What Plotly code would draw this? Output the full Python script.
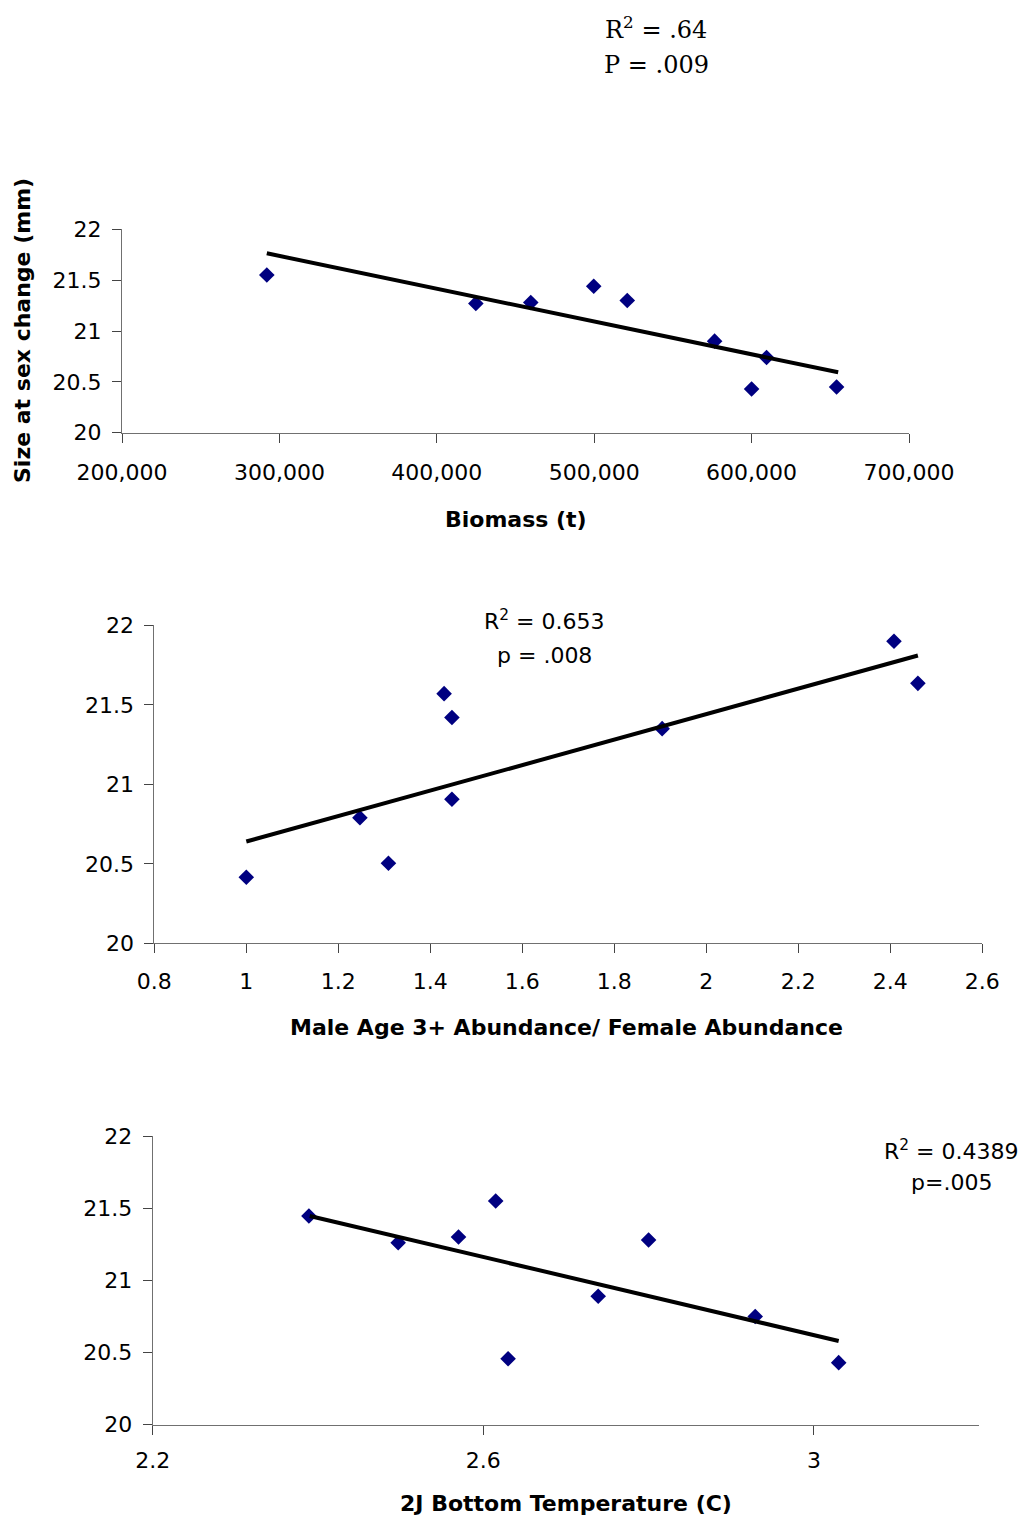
import plotly.graph_objects as go

W, H = 1021, 1518

# Panel 1: Biomass
biomass = [292000, 424800, 459700, 499700, 521000, 576500, 609500, 600000, 654000]
size1 = [21.55, 21.27, 21.28, 21.44, 21.30, 20.90, 20.74, 20.43, 20.45]
trend1_x = [292000, 655000]
trend1_y = [21.764, 20.594]

# Panel 2: Male age 3+ / female abundance
ratio = [1.0, 1.247, 1.309, 1.43, 1.447, 1.447, 1.904, 2.408, 2.460]
size2 = [20.415, 20.79, 20.503, 21.57, 21.42, 20.906, 21.35, 21.90, 21.635]
trend2_x = [1.0, 2.46]
trend2_y = [20.64, 21.81]

# Panel 3: 2J bottom temperature
temp = [2.389, 2.497, 2.570, 2.615, 2.630, 2.739, 2.800, 2.929, 3.030]
size3 = [21.446, 21.26, 21.30, 21.55, 20.457, 20.89, 21.28, 20.75, 20.43]
trend3_x = [2.39, 3.03]
trend3_y = [21.446, 20.58]

y_ticks = [20, 20.5, 21, 21.5, 22]
y_labels = ["20", "20.5", "21", "21.5", "22"]
x1_ticks = [200000, 300000, 400000, 500000, 600000, 700000]
x1_labels = ["200,000", "300,000", "400,000", "500,000", "600,000", "700,000"]
x2_ticks = [0.8, 1, 1.2, 1.4, 1.6, 1.8, 2, 2.2, 2.4, 2.6]
x2_labels = ["0.8", "1", "1.2", "1.4", "1.6", "1.8", "2", "2.2", "2.4", "2.6"]
x3_ticks = [2.2, 2.6, 3.0]
x3_labels = ["2.2", "2.6", "3"]

# pixel boxes (left, right, top, bottom)
boxes = [
    (122, 909, 229.3, 432.7),
    (154.3, 982.3, 625.3, 943.3),
    (152.7, 979.2, 1136, 1424.7),
]

def xd(l, r):
    return [l / W, r / W]

def yd(t, b):
    return [1 - b / H, 1 - t / H]

fig = go.Figure()

panels = [
    (biomass, size1, trend1_x, trend1_y),
    (ratio, size2, trend2_x, trend2_y),
    (temp, size3, trend3_x, trend3_y),
]
for i, (xs, ys, tx, ty) in enumerate(panels):
    sfx = "" if i == 0 else str(i + 1)
    fig.add_trace(go.Scatter(x=xs, y=ys, mode="markers",
                             marker=dict(symbol="diamond", size=12, color="#000080",
                                         line=dict(width=0)),
                             xaxis="x" + sfx, yaxis="y" + sfx, showlegend=False,
                             cliponaxis=False))
    fig.add_trace(go.Scatter(x=tx, y=ty, mode="lines",
                             line=dict(color="black", width=4),
                             xaxis="x" + sfx, yaxis="y" + sfx, showlegend=False,
                             cliponaxis=False))

sans = "DejaVu Sans, Liberation Sans, Arial"
serif = "DejaVu Serif, Liberation Serif, Times New Roman"

tick_font = dict(family=sans, size=22, color="black")
axis_common = dict(showline=True, linecolor="#707070", linewidth=1, ticks="outside",
                   ticklen=9, tickcolor="#444444", tickwidth=1, showgrid=False,
                   zeroline=False, tickfont=tick_font, automargin=False)

ranges = [(200000, 700000), (0.8, 2.6), (2.2, 3.2)]
xt = [(x1_ticks, x1_labels), (x2_ticks, x2_labels), (x3_ticks, x3_labels)]
xstand = [11, 9, 7]
layout = {}
for i, (l, r, t, b) in enumerate(boxes):
    sfx = "" if i == 0 else str(i + 1)
    ax_x = dict(axis_common, domain=xd(l, r), range=list(ranges[i]),
                tickvals=xt[i][0], ticktext=xt[i][1],
                anchor="y" + sfx, ticklabelstandoff=xstand[i])
    ax_y = dict(axis_common, domain=yd(t, b), range=[20, 22],
                tickvals=y_ticks, ticktext=y_labels,
                anchor="x" + sfx, ticklabelstandoff=6)
    layout["xaxis" + sfx] = ax_x
    layout["yaxis" + sfx] = ax_y

def px(x, y):
    return x / W, 1 - y / H

annotations = []
def add_text(text, x, y, size, family, bold=False, angle=0, anchor="center"):
    ax, ay = px(x, y)
    annotations.append(dict(text=("<b>%s</b>" % text) if bold else text,
                            x=ax, y=ay, xref="paper", yref="paper",
                            xanchor=anchor, yanchor="middle", showarrow=False,
                            textangle=angle,
                            font=dict(family=family, size=size, color="black")))

add_text("R<sup>2</sup> = .64", 656, 28, 24, serif)
add_text("P = .009", 656, 65, 24, serif)
add_text("R<sup>2</sup> = 0.653", 544, 620, 22, sans)
add_text("p = .008", 544, 655, 22, sans)
add_text("R<sup>2</sup> = 0.4389", 951, 1150, 22, sans)
add_text("p=.005", 951, 1182, 22, sans)

add_text("Size at sex change (mm)", 22, 331, 22, sans, bold=True, angle=-90)
add_text("Biomass (t)", 516, 519, 22, sans, bold=True)
add_text("Male Age 3+ Abundance/ Female Abundance", 566, 1027, 22, sans, bold=True)
add_text("2J Bottom Temperature (C)", 566, 1503, 22, sans, bold=True)

fig.update_layout(width=W, height=H,
                  margin=dict(l=0, r=0, t=0, b=0, pad=0, autoexpand=False),
                  paper_bgcolor="white", plot_bgcolor="white",
                  annotations=annotations, **layout)

fig.write_html("out.html")
